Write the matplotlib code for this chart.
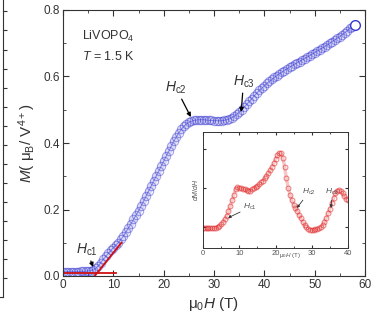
#LiVOPO4 magnetization curve with dM/dH inset
import matplotlib
matplotlib.use("Agg")
import matplotlib.pyplot as plt
import numpy as np

plt.rcParams['font.family'] = ['Liberation Sans', 'DejaVu Sans']
plt.rcParams['mathtext.fontset'] = 'custom'
plt.rcParams['mathtext.rm'] = 'Liberation Sans'
plt.rcParams['mathtext.it'] = 'Liberation Sans:italic'

#main data: field (T) and magnetisation (muB / V4+), read every 0.5 T
field = np.arange(0, 58.5, 0.5)
mag = [0.013, 0.013, 0.013, 0.013, 0.013, 0.013, 0.013, 0.014, 0.014, 0.014,
       0.015, 0.016, 0.018, 0.023, 0.030, 0.040, 0.050, 0.059, 0.068, 0.077,
       0.085, 0.093, 0.100, 0.110, 0.120, 0.132, 0.145, 0.157, 0.170, 0.183,
       0.195, 0.210, 0.225, 0.240, 0.255, 0.270, 0.285, 0.300, 0.315, 0.330,
       0.345, 0.360, 0.375, 0.390, 0.405, 0.418, 0.430, 0.441, 0.450, 0.457,
       0.462, 0.465, 0.468, 0.469, 0.470, 0.470, 0.470, 0.469, 0.468, 0.468,
       0.467, 0.467, 0.467, 0.467, 0.468, 0.470, 0.472, 0.476, 0.480, 0.486,
       0.492, 0.500, 0.508, 0.516, 0.525, 0.533, 0.542, 0.550, 0.558, 0.565,
       0.572, 0.579, 0.585, 0.591, 0.597, 0.603, 0.608, 0.613, 0.618, 0.623,
       0.628, 0.632, 0.637, 0.641, 0.645, 0.650, 0.654, 0.658, 0.663, 0.667,
       0.672, 0.676, 0.681, 0.685, 0.690, 0.695, 0.700, 0.705, 0.710, 0.715,
       0.720, 0.726, 0.732, 0.738, 0.745, 0.750, 0.756]

#linear fits used to define Hc1
fit_flat_x = [0, 10.5]
fit_flat_y = [0.009, 0.009]
fit_rise_x = [6.3, 11.6]
fit_rise_y = [0.0, 0.1]

#inset data: dM/dH (arb. units) every 0.5 T
field_in = np.arange(0, 40.5, 0.5)
dmdh = [0.170, 0.170, 0.170, 0.170, 0.170, 0.170, 0.172, 0.175, 0.180, 0.190,
        0.205, 0.225, 0.250, 0.280, 0.315, 0.360, 0.410, 0.460, 0.510, 0.525,
        0.520, 0.515, 0.510, 0.505, 0.500, 0.495, 0.495, 0.505, 0.515, 0.525,
        0.535, 0.550, 0.565, 0.580, 0.600, 0.620, 0.645, 0.670, 0.700, 0.730,
        0.765, 0.800, 0.820, 0.820, 0.780, 0.700, 0.600, 0.520, 0.460, 0.410,
        0.375, 0.345, 0.315, 0.285, 0.255, 0.225, 0.200, 0.180, 0.165, 0.155,
        0.155, 0.155, 0.160, 0.165, 0.170, 0.180, 0.200, 0.225, 0.260, 0.300,
        0.340, 0.385, 0.430, 0.470, 0.495, 0.500, 0.490, 0.470, 0.445, 0.425,
        0.410]

fig = plt.figure(figsize=(3.81, 3.25), dpi=100)
fgc = '#333333'
blue = (0.22, 0.22, 0.82)
red = (0.88, 0.15, 0.15)

#left edge: corner of the neighbouring panel
axl = fig.add_axes([-0.05, 0.086, 0.058, 0.914])
axl.set_xlim(0, 1)
axl.set_ylim(0, 15.6)
for s in ['top', 'left']:
    axl.spines[s].set_visible(False)
axl.spines['right'].set_color(fgc)
axl.spines['bottom'].set_color(fgc)
axl.yaxis.tick_right()
axl.set_yticks(np.arange(1, 16))
axl.tick_params(axis='y', direction='out', length=3, color=fgc, labelright=False)
axl.set_xticks([])

#main axes
ax = fig.add_axes([63/381, 49/325, 302/381, 266/325])
ax.plot(field, mag, color=blue, linewidth=5, alpha=0.18, solid_capstyle='round')
ax.plot(field, mag, color=blue, linewidth=0.8, alpha=0.5)
ax.plot(field, mag, linestyle='none', marker='o', markersize=6, markerfacecolor='none',
        markeredgecolor=blue, markeredgewidth=0.8, alpha=0.45)
ax.plot(field[-1], mag[-1], marker='o', markersize=7, markerfacecolor='white',
        markeredgecolor=blue, markeredgewidth=1)
ax.plot(fit_flat_x, fit_flat_y, color='#d01010', linewidth=1.3)
ax.plot(fit_rise_x, fit_rise_y, color='#d01010', linewidth=1.3)

ax.set_xlim(0, 60)
ax.set_ylim(0, 0.8)
ax.set_xticks(np.arange(0, 61, 10))
ax.set_xticks(np.arange(5, 60, 10), minor=True)
ax.set_yticks(np.arange(0, 0.81, 0.2))
ax.set_yticks(np.arange(0.1, 0.8, 0.2), minor=True)
ax.set_yticklabels(['0.0', '0.2', '0.4', '0.6', '0.8'])
ax.tick_params(which='both', direction='in', top=True, right=True, color=fgc,
               labelsize=8.5, labelcolor=fgc, pad=2)
ax.tick_params(which='major', length=4)
ax.tick_params(which='minor', length=2.5)
for s in ax.spines.values():
    s.set_color(fgc)
    s.set_linewidth(0.8)

ax.set_xlabel('μ$_0$$H$ (T)', fontsize=11, color=fgc, labelpad=3)
ax.set_ylabel('$M$( μ$_{\\rm B}$/ V$^{4+}$)', fontsize=11, color=fgc, labelpad=4)

ax.text(3.8, 0.72, 'LiVOPO$_4$', fontsize=9, color=fgc, va='center')
ax.text(3.8, 0.66, '$T$ = 1.5 K', fontsize=9, color=fgc, va='center')

arrow = dict(arrowstyle='-|>', color='black', lw=0.9, mutation_scale=6, shrinkA=0, shrinkB=0)
ax.annotate('$H_{\\rm c1}$', xy=(6.0, 0.027), xytext=(2.5, 0.078), fontsize=10,
            color=fgc, va='center', arrowprops=arrow)
ax.annotate('$H_{\\rm c2}$', xy=(25.4, 0.478), xytext=(20.3, 0.565), fontsize=10,
            color=fgc, va='center', arrowprops=arrow)
ax.annotate('$H_{\\rm c3}$', xy=(35.4, 0.493), xytext=(33.7, 0.583), fontsize=10,
            color=fgc, va='center', arrowprops=arrow)

#inset: dM/dH
axi = fig.add_axes([203/381, 77/325, 145/381, 116/325])
axi.plot(field_in, dmdh, color=red, linewidth=2.5, alpha=0.25)
axi.plot(field_in, dmdh, linestyle='none', marker='o', markersize=3.5, markerfacecolor='none',
         markeredgecolor=red, markeredgewidth=0.7, alpha=0.6)
axi.set_xlim(0, 40)
axi.set_ylim(0, 1)
axi.set_xticks(np.arange(0, 41, 10))
axi.set_xticks(np.arange(5, 40, 10), minor=True)
axi.set_yticks([0.18, 0.515, 0.85])
axi.set_yticklabels([])
axi.tick_params(which='both', direction='in', top=True, right=True, color=fgc,
                labelsize=5.5, labelcolor='#555555', pad=1.5, length=2.5)
axi.tick_params(which='minor', length=1.5)
for s in axi.spines.values():
    s.set_color(fgc)
    s.set_linewidth(0.7)
axi.set_xlabel('μ$_0$$H$ (T)', fontsize=4.5, color='#555555', labelpad=-4)
axi.xaxis.set_label_coords(0.6, -0.03)
axi.set_ylabel('$dM/dH$', fontsize=5, color='#555555', labelpad=1)

arrow_s = dict(arrowstyle='-|>', color='#333333', lw=0.6, mutation_scale=4, shrinkA=0, shrinkB=0)
axi.annotate('$H_{\\rm c1}$', xy=(6.9, 0.26), xytext=(11, 0.35), fontsize=6,
             color='#555555', va='center', arrowprops=arrow_s)
axi.annotate('$H_{\\rm c2}$', xy=(25.9, 0.345), xytext=(27.3, 0.48), fontsize=6,
             color='#555555', va='center', arrowprops=arrow_s)
axi.annotate('$H_{\\rm c3}$', xy=(35.3, 0.345), xytext=(33.7, 0.48), fontsize=6,
             color='#555555', va='center', arrowprops=arrow_s)

plt.savefig("out.png", dpi=100)
